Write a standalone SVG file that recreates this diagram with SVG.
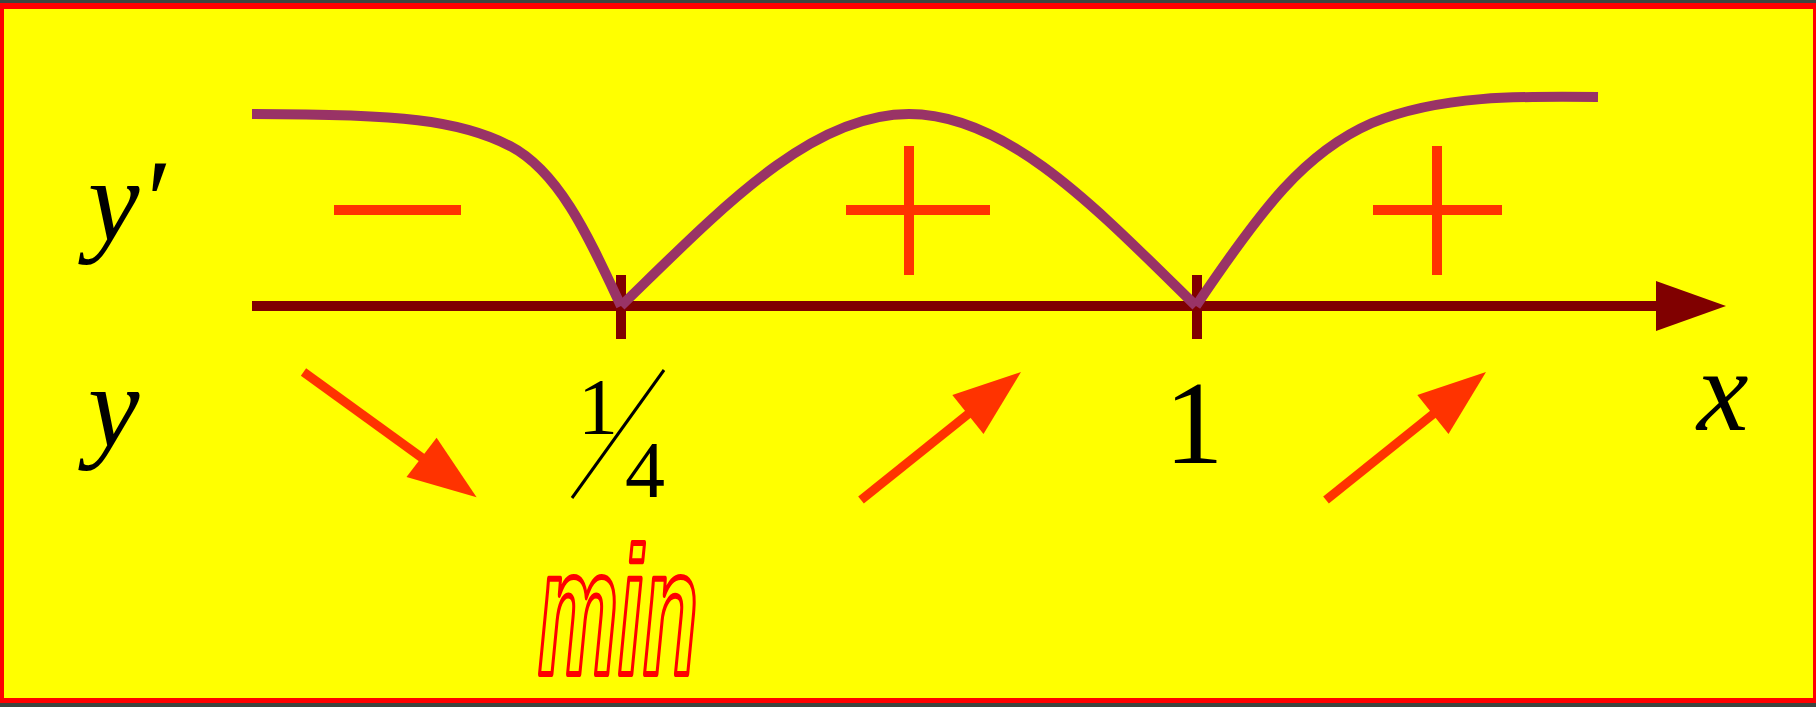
<svg xmlns="http://www.w3.org/2000/svg" width="1816" height="707" viewBox="0 0 1816 707">
<style>
.math{font-family:"Liberation Serif","Times New Roman",serif;fill:#000}
.it{font-style:italic}
.sign{stroke:#FF3300;stroke-width:10;fill:none}
.arr{stroke:#FF3300;stroke-width:9;fill:none}
.head{fill:#FF3300}
.curve{stroke:#993366;stroke-width:10;fill:none}
.axis{stroke:#800000;stroke-width:10;fill:none}
.min{font-family:"Liberation Sans",Arial,sans-serif;font-weight:bold;font-style:italic;fill:none;stroke:#FF0000;stroke-width:6;stroke-linejoin:round}
</style>
<rect x="0" y="0" width="1816" height="707" fill="#3c4540"/>
<rect x="0" y="3" width="1816" height="700" fill="#FF0000"/>
<rect x="4" y="9" width="1809" height="689" fill="#FFFF00"/>
<g id="connectors">
  <line class="axis" x1="252" y1="306" x2="1660" y2="306"/>
  <polygon fill="#800000" points="1656,281 1726,306 1656,331"/>
  <line class="axis" x1="621" y1="275" x2="621" y2="339"/>
  <line class="axis" x1="1197" y1="275" x2="1197" y2="339"/>
  <path class="curve" d="M252,114 C400,114 460,120 510,146 C560,172 590,240 621,306"/>
  <path class="curve" d="M621,306 C720,210 810,114 909,114 C1008,114 1098,210 1196,306"/>
  <path class="curve" d="M1196,306 C1262,208 1305,152 1372,123 C1440,95 1520,96 1598,97"/>
  <line class="arr" x1="303.5" y1="372" x2="425" y2="460"/>
  <polygon class="head" points="476.6,497.3 406.5,477 436.6,437.8"/>
  <line class="arr" x1="861" y1="500" x2="972" y2="411"/>
  <polygon class="head" points="1021,372 952.3,395 983.5,434"/>
  <line class="arr" x1="1326" y1="500" x2="1437" y2="411"/>
  <polygon class="head" points="1486,372 1417.3,395 1448.5,434"/>
</g>
<g id="signs">
  <line class="sign" x1="334" y1="210" x2="461" y2="210"/>
  <line class="sign" x1="846" y1="210" x2="990" y2="210"/>
  <line class="sign" x1="909" y1="146" x2="909" y2="275"/>
  <line class="sign" x1="1373" y1="210" x2="1502" y2="210"/>
  <line class="sign" x1="1437" y1="146" x2="1437" y2="275"/>
</g>
<g id="label-yprime"><text class="math it" x="88" y="240" font-size="116">y′</text></g>
<g id="label-y"><text class="math it" x="88" y="446" font-size="116">y</text></g>
<g id="label-x"><text class="math it" x="1697" y="430" font-size="116">x</text></g>
<g id="label-one"><text class="math" x="1194" y="463" font-size="118" text-anchor="middle">1</text></g>
<g id="label-quarter">
  <text class="math" x="578" y="434" font-size="80">1</text>
  <line x1="664" y1="370" x2="572" y2="498" stroke="#000" stroke-width="3"/>
  <text class="math" x="625" y="497" font-size="80">4</text>
</g>
<g id="label-min">
  <text class="min" x="538" y="674" font-size="180" textLength="160" lengthAdjust="spacingAndGlyphs">min</text>
</g>
</svg>
